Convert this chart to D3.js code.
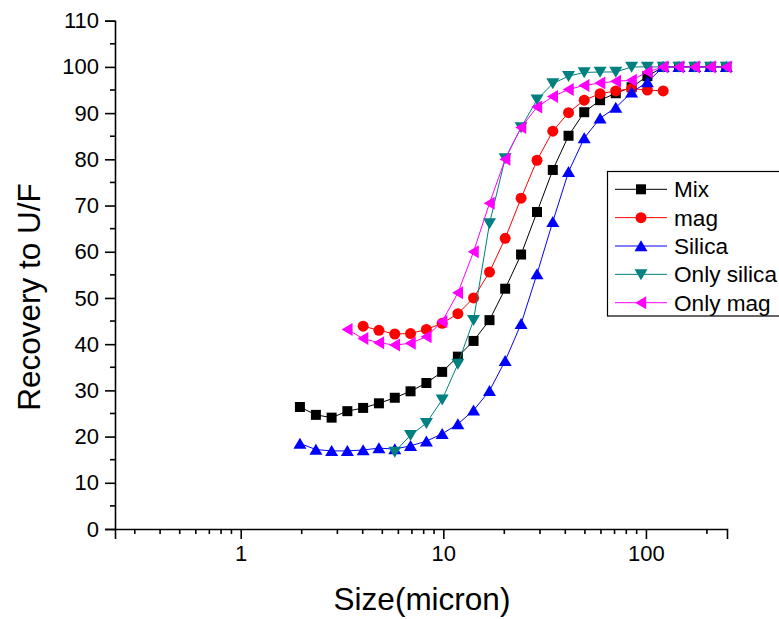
<!DOCTYPE html>
<html>
<head>
<meta charset="utf-8">
<script src="https://cdn.jsdelivr.net/npm/d3@7/dist/d3.min.js"></script>
<style>
  html, body { margin: 0; padding: 0; background: #fff; }
  svg { display: block; font-family: Arial, "Liberation Sans", sans-serif; }
</style>
</head>
<body>
<svg id="chart" width="779" height="619"></svg>
<script>
// ---- data ----
const sizes = [1.96, 2.35, 2.81, 3.36, 4.02, 4.81, 5.76, 6.89, 8.25, 9.87, 11.8, 14.1, 16.9, 20.2,
               24.2, 29.0, 34.7, 41.5, 49.6, 59.4, 71.0, 85.0, 101.7, 121.7, 145.6, 174.2, 208.4, 249.4];

const mixValues = [26.4, 24.7, 24.1, 25.5, 26.2, 27.2, 28.4, 29.8, 31.6, 34.0, 37.3, 40.7, 45.2, 52.0,
                   59.4, 68.6, 77.7, 85.1, 90.2, 92.8, 94.3, 95.6, 98.0, 100, 100, 100, 100, 100];
const magStart = 4;
const magValues = [43.9, 43.0, 42.2, 42.3, 43.2, 44.5, 46.6, 50.0, 55.6, 62.9, 71.6, 79.8, 86.1, 90.1,
                   92.8, 94.2, 94.8, 95.3, 95.0, 94.8];
const silicaValues = [18.5, 17.2, 16.9, 16.9, 17.1, 17.5, 17.3, 18.0, 19.0, 20.6, 22.7, 25.7, 29.9, 36.4,
                      44.4, 55.2, 66.5, 77.3, 84.6, 88.9, 91.2, 94.5, 96.7, 100, 100, 100, 100, 100];
const onlySilicaStart = 6;
const onlySilicaValues = [16.7, 20.3, 22.9, 28.0, 35.7, 45.2, 66.1, 80.2, 86.9, 92.9, 96.4, 98.0, 98.8,
                          98.9, 98.9, 100, 100, 100, 100, 100, 100, 100];
const onlyMagStart = 3;
const onlyMagValues = [43.2, 41.2, 40.3, 39.8, 40.2, 41.6, 44.9, 51.1, 60.0, 70.5, 80.0, 86.9, 91.3,
                       93.6, 95.1, 96.0, 96.5, 96.9, 97.1, 98.9, 100, 100, 100, 100, 100];

const seriesNames = ["Mix", "mag", "Silica", "Only silica", "Only mag"];
const xTickLabels = [1, 10, 100];
const yTickLabels = [0, 10, 20, 30, 40, 50, 60, 70, 80, 90, 100, 110];
const xDomain = [0.2396, 251.3];
const yDomain = [0, 110];

// ---- build series ----
function mk(start, vals) { return vals.map((v, i) => ({ x: sizes[start + i], y: v })); }
const series = [
  { name: seriesNames[0], color: "#000000", shape: "square", data: mk(0, mixValues) },
  { name: seriesNames[1], color: "#ff0000", shape: "circle", data: mk(magStart, magValues) },
  { name: seriesNames[2], color: "#0000ff", shape: "up", data: mk(0, silicaValues) },
  { name: seriesNames[3], color: "#008080", shape: "down", data: mk(onlySilicaStart, onlySilicaValues) },
  { name: seriesNames[4], color: "#ff00ff", shape: "left", data: mk(onlyMagStart, onlyMagValues) }
];

const svg = d3.select("#chart");
const x = d3.scaleLog().domain(xDomain).range([115, 727]);
const y = d3.scaleLinear().domain(yDomain).range([529, 20.7]);

function markerPath(shape) {
  switch (shape) {
    case "square": return "M-5,-5H5V5H-5Z";
    case "circle": return d3.symbol(d3.symbolCircle, 95)();
    case "up": return "M0,-5.8L6.5,5.2L-6.5,5.2Z";
    case "down": return "M0,5.8L6.5,-5.2L-6.5,-5.2Z";
    case "left": return "M-5.8,0L5.2,-6.5L5.2,6.5Z";
  }
}

// ---- axes ----
const axisG = svg.append("g");
// y axis
const yAxis = d3.axisLeft(y).tickValues(yTickLabels).tickSize(10).tickPadding(6).tickFormat(d3.format("d"));
const gy = axisG.append("g").attr("transform", "translate(115,0)").call(yAxis);
gy.select(".domain").attr("stroke-width", 1.6);
gy.selectAll(".tick line").attr("stroke-width", 1.6);
gy.selectAll(".tick text").attr("font-size", 22).attr("fill", "#000").attr("font-family", "Arial, 'Liberation Sans', sans-serif");
const yMinor = d3.range(5, 110, 10);
axisG.append("g").selectAll("line").data(yMinor).join("line")
  .attr("x1", 110).attr("x2", 115).attr("y1", d => y(d)).attr("y2", d => y(d))
  .attr("stroke", "#000").attr("stroke-width", 1.6);

// x axis
const xAxis = d3.axisBottom(x).tickValues(xTickLabels).tickSize(10).tickPadding(6).tickFormat(d3.format("d"));
const gx = axisG.append("g").attr("transform", "translate(0,529)").call(xAxis);
gx.select(".domain").attr("stroke-width", 1.6);
gx.selectAll(".tick line").attr("stroke-width", 1.6);
gx.selectAll(".tick text").attr("font-size", 22).attr("fill", "#000").attr("font-family", "Arial, 'Liberation Sans', sans-serif");
const xMinor = [];
[0.1, 1, 10, 100].forEach(dec => { for (let k = 2; k <= 9; k++) { const v = dec * k; if (v >= xDomain[0] && v <= xDomain[1]) xMinor.push(v); } });
axisG.append("g").selectAll("line").data(xMinor).join("line")
  .attr("x1", d => x(d)).attr("x2", d => x(d)).attr("y1", 529).attr("y2", 534)
  .attr("stroke", "#000").attr("stroke-width", 1.6);

// titles
svg.append("text").attr("x", 422).attr("y", 610).attr("text-anchor", "middle")
  .attr("font-size", 31.5).attr("fill", "#000").text("Size(micron)");
svg.append("text").attr("transform", "translate(40,297) rotate(-90)").attr("text-anchor", "middle")
  .attr("font-size", 31.5).attr("fill", "#000").text("Recovery to U/F");

// ---- series ----
const line = d3.line().x(d => x(d.x)).y(d => y(d.y));
series.forEach(s => {
  const g = svg.append("g");
  g.append("path").datum(s.data).attr("d", line).attr("fill", "none").attr("stroke", s.color).attr("stroke-width", 1);
  g.selectAll("path.m").data(s.data).join("path").attr("class", "m")
    .attr("transform", d => `translate(${x(d.x)},${y(d.y)})`)
    .attr("d", markerPath(s.shape)).attr("fill", s.color);
});

// ---- legend ----
const lg = svg.append("g");
lg.append("rect").attr("x", 607.5).attr("y", 171.5).attr("width", 200).attr("height", 144.5)
  .attr("fill", "#fff").attr("stroke", "#000").attr("stroke-width", 1.2);
series.forEach((s, i) => {
  const cy = 189.3 + i * 28.35;
  lg.append("line").attr("x1", 615).attr("x2", 667).attr("y1", cy).attr("y2", cy).attr("stroke", s.color).attr("stroke-width", 1);
  lg.append("path").attr("transform", `translate(641,${cy})`).attr("d", markerPath(s.shape)).attr("fill", s.color);
  lg.append("text").attr("x", 674).attr("y", cy).attr("dy", "0.35em").attr("font-size", 22.6).attr("fill", "#000").text(s.name);
});
</script>
</body>
</html>
